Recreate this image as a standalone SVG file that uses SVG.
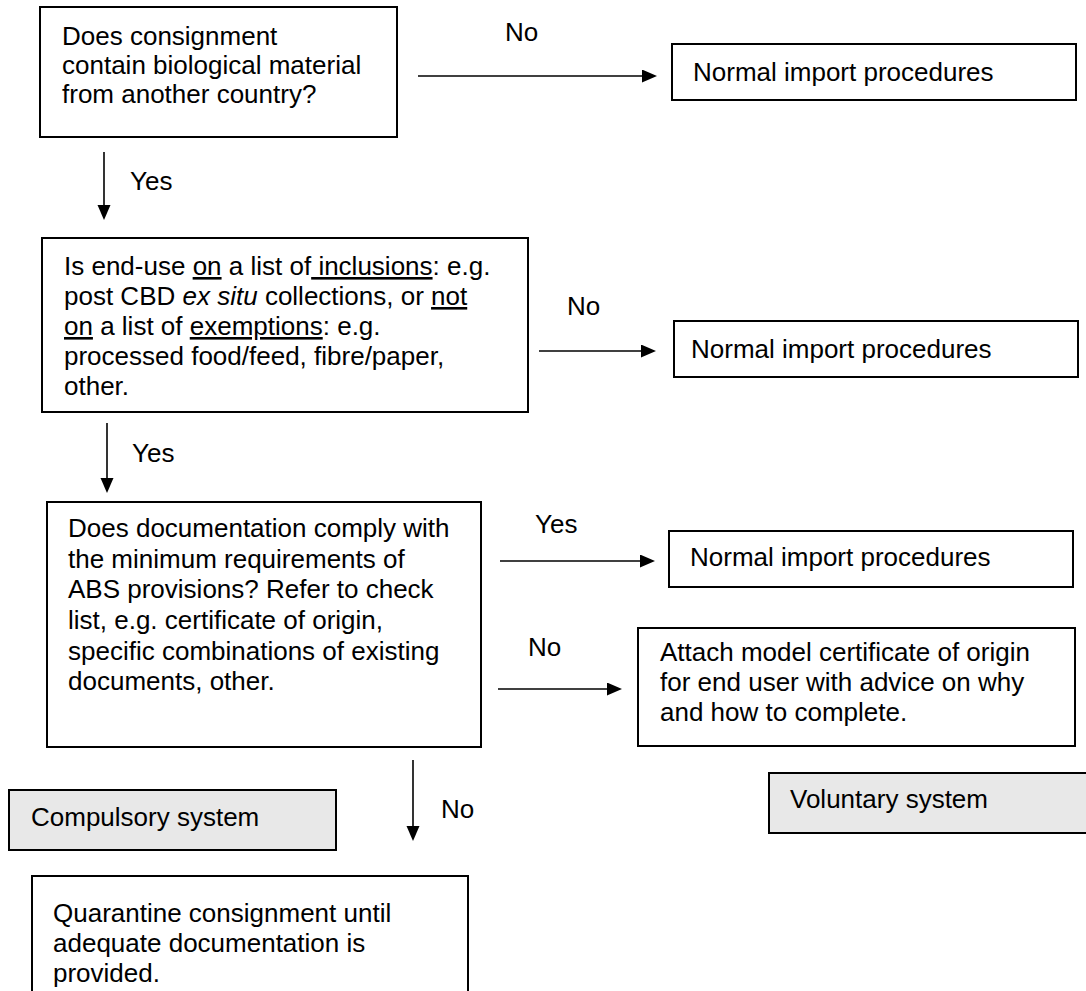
<svg xmlns="http://www.w3.org/2000/svg" width="1086" height="991" viewBox="0 0 1086 991">
  <style>
    text { font-family: "Liberation Sans", Arial, sans-serif; font-size: 26px; fill: #000; }
    .box { fill: #fff; stroke: #000; stroke-width: 2; }
    .sys { fill: #e8e8e8; stroke: #000; stroke-width: 2; }
    .arrow { fill: none; stroke: #000; stroke-width: 1.6; marker-end: url(#head); }
    .u { text-decoration: underline; }
  </style>
  <defs>
    <marker id="head" markerUnits="userSpaceOnUse" markerWidth="16" markerHeight="14" refX="5" refY="6.5" orient="auto">
      <path d="M0,0 L15,6.5 L0,13 Z" fill="#000"/>
    </marker>
  </defs>

  <rect width="1086" height="991" fill="#fff"/>

  <!-- connectors and their labels -->
  <g id="connectors">
    <line class="arrow" x1="418" y1="76" x2="647" y2="76"/>
    <line class="arrow" x1="104" y1="152" x2="104" y2="210"/>
    <line class="arrow" x1="539" y1="351" x2="646" y2="351"/>
    <line class="arrow" x1="107" y1="423" x2="107" y2="483"/>
    <line class="arrow" x1="500" y1="561" x2="645" y2="561"/>
    <line class="arrow" x1="498" y1="689" x2="612" y2="689"/>
    <line class="arrow" x1="413" y1="760" x2="413" y2="831"/>
    <text x="505" y="41">No</text>
    <text x="130" y="190">Yes</text>
    <text x="567" y="315">No</text>
    <text x="132" y="462">Yes</text>
    <text x="535" y="533">Yes</text>
    <text x="528" y="656">No</text>
    <text x="441" y="818">No</text>
  </g>

  <g id="q-biological">
    <rect class="box" x="40" y="7" width="357" height="130"/>
    <text x="62" y="45">Does consignment</text>
    <text x="62" y="74">contain biological material</text>
    <text x="62" y="103">from another country?</text>
  </g>

  <g id="normal-1">
    <rect class="box" x="672" y="44" width="404" height="56"/>
    <text x="693" y="81">Normal import procedures</text>
  </g>

  <g id="q-end-use">
    <rect class="box" x="42" y="238" width="486" height="174"/>
    <text x="64" y="275">Is end-use <tspan class="u">on</tspan> a list of<tspan class="u"> inclusions</tspan>: e.g.</text>
    <text x="64" y="305">post CBD <tspan font-style="italic">ex situ</tspan> collections, or <tspan class="u">not</tspan></text>
    <text x="64" y="335"><tspan class="u">on</tspan> a list of <tspan class="u">exemptions</tspan>: e.g.</text>
    <text x="64" y="365">processed food/feed, fibre/paper,</text>
    <text x="64" y="395">other.</text>
  </g>

  <g id="normal-2">
    <rect class="box" x="674" y="321" width="404" height="56"/>
    <text x="691" y="358">Normal import procedures</text>
  </g>

  <g id="q-documentation">
    <rect class="box" x="47" y="502" width="434" height="245"/>
    <text x="68" y="537">Does documentation comply with</text>
    <text x="68" y="568">the minimum requirements of</text>
    <text x="68" y="598">ABS provisions? Refer to check</text>
    <text x="68" y="629">list, e.g. certificate of origin,</text>
    <text x="68" y="660">specific combinations of existing</text>
    <text x="68" y="690">documents, other.</text>
  </g>

  <g id="normal-3">
    <rect class="box" x="669" y="531" width="404" height="56"/>
    <text x="690" y="566">Normal import procedures</text>
  </g>

  <g id="attach-certificate">
    <rect class="box" x="638" y="628" width="437" height="118"/>
    <text x="660" y="661">Attach model certificate of origin</text>
    <text x="660" y="691">for end user with advice on why</text>
    <text x="660" y="721">and how to complete.</text>
  </g>

  <g id="compulsory">
    <rect class="sys" x="9" y="790" width="327" height="60"/>
    <text x="31" y="826">Compulsory system</text>
  </g>

  <g id="voluntary">
    <rect class="sys" x="769" y="773" width="330" height="60"/>
    <text x="790" y="808">Voluntary system</text>
  </g>

  <g id="quarantine">
    <rect class="box" x="32" y="876" width="436" height="130"/>
    <text x="53" y="922">Quarantine consignment until</text>
    <text x="53" y="952">adequate documentation is</text>
    <text x="53" y="982">provided.</text>
  </g>
</svg>
